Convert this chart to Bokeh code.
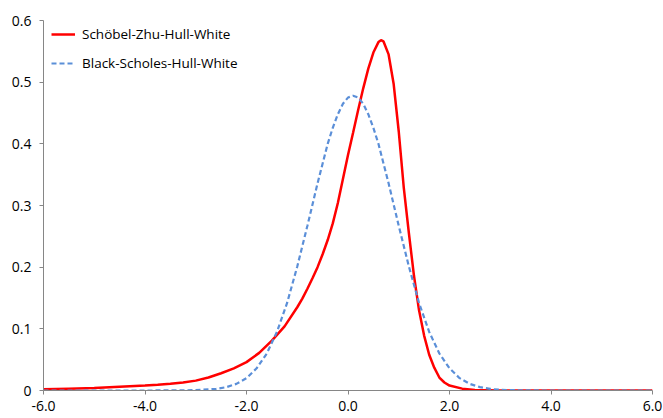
from bokeh.plotting import figure
from bokeh.models import Range1d, FixedTicker, NumeralTickFormatter, Legend, LegendItem
from bokeh.embed import file_html
from bokeh.resources import INLINE

# Schöbel-Zhu-Hull-White density
x_szhw = [-6.0, -5.5, -5.0, -4.5, -4.0, -3.75, -3.5, -3.25, -3.0, -2.75,
          -2.5, -2.25, -2.0, -1.75, -1.5, -1.25, -1.0, -0.9, -0.8, -0.7,
          -0.6, -0.5, -0.4, -0.3, -0.2, -0.1, 0.0, 0.1, 0.2, 0.3,
          0.4, 0.5, 0.6, 0.65, 0.7, 0.8, 0.9, 1.0, 1.1, 1.2,
          1.3, 1.4, 1.5, 1.6, 1.7, 1.8, 1.9, 2.0, 2.25, 2.5,
          3.0, 4.0, 5.0, 6.0]
y_szhw = [0.002, 0.003, 0.004, 0.006, 0.008, 0.0093, 0.011, 0.013, 0.016, 0.021,
          0.028, 0.036, 0.046, 0.061, 0.081, 0.104, 0.135, 0.149, 0.165, 0.182,
          0.200, 0.221, 0.244, 0.271, 0.304, 0.343, 0.382, 0.418, 0.455, 0.490,
          0.522, 0.548, 0.565, 0.568, 0.566, 0.545, 0.497, 0.420, 0.328, 0.255,
          0.186, 0.130, 0.089, 0.058, 0.037, 0.021, 0.013, 0.008, 0.003, 0.001,
          0.0002, 0.0, 0.0, 0.0]

# Black-Scholes-Hull-White density
x_bshw = [-6.0, -4.0, -3.5, -3.0, -2.6, -2.4, -2.2, -2.0, -1.8, -1.6,
          -1.4, -1.2, -1.0, -0.8, -0.6, -0.4, -0.3, -0.2, -0.1, 0.0,
          0.1, 0.2, 0.3, 0.4, 0.5, 0.6, 0.8, 1.0, 1.2, 1.4,
          1.6, 1.8, 2.0, 2.2, 2.4, 2.6, 2.8, 3.0, 3.5, 4.0, 6.0]
y_bshw = [0.0, 0.0, 0.0001, 0.0005, 0.0026, 0.0054, 0.0107, 0.020, 0.036, 0.060,
          0.095, 0.142, 0.201, 0.267, 0.336, 0.400, 0.426, 0.448, 0.465, 0.475,
          0.478, 0.475, 0.465, 0.448, 0.426, 0.400, 0.336, 0.267, 0.201, 0.142,
          0.095, 0.060, 0.036, 0.020, 0.0107, 0.0054, 0.0026, 0.0011, 0.0001, 0.0, 0.0]

x_ticks = [-6.0, -4.0, -2.0, 0.0, 2.0, 4.0, 6.0]
y_ticks = [0.0, 0.1, 0.2, 0.3, 0.4, 0.5, 0.6]
labels = ["Schöbel-Zhu-Hull-White", "Black-Scholes-Hull-White"]

FONT = "Open Sans"

p = figure(width=663, height=418, output_backend="svg", toolbar_location=None,
           x_range=Range1d(-6, 6), y_range=Range1d(0, 0.6),
           min_border_left=43, min_border_right=11, min_border_top=20, min_border_bottom=28)
p.outline_line_color = None
p.background_fill_color = "white"
p.border_fill_color = "white"
p.xgrid.visible = False
p.ygrid.visible = False

r1 = p.line(x_szhw, y_szhw, line_color="#FF0000", line_width=2.5)
r2 = p.line(x_bshw, y_bshw, line_color="#5B8FD8", line_width=2.2, line_dash="5 3")

for ax in (p.xaxis[0], p.yaxis[0]):
    ax.axis_line_color = "#868686"
    ax.major_tick_line_color = "#868686"
    ax.minor_tick_line_color = None
    ax.major_tick_in = 0
    ax.major_tick_out = 4
    ax.major_label_text_font = FONT
    ax.major_label_text_font_size = "14px"
    ax.major_label_text_color = "#000000"

p.xaxis[0].ticker = FixedTicker(ticks=x_ticks)
p.xaxis[0].formatter = NumeralTickFormatter(format="0.0")
p.xaxis[0].major_label_standoff = 6
p.yaxis[0].ticker = FixedTicker(ticks=y_ticks)
p.yaxis[0].formatter = NumeralTickFormatter(format="0.[0]")
p.yaxis[0].major_label_standoff = 8

legend = Legend(items=[LegendItem(label=labels[0], renderers=[r1]),
                       LegendItem(label=labels[1], renderers=[r2])],
                location=(8, 317), padding=0, margin=0, spacing=9,
                glyph_width=24, glyph_height=20, label_standoff=7,
                label_text_font=FONT, label_text_font_size="13.5px",
                label_text_color="#000000",
                border_line_color=None, background_fill_alpha=0)
p.add_layout(legend)

open("out.html", "w").write(file_html(p, INLINE))
